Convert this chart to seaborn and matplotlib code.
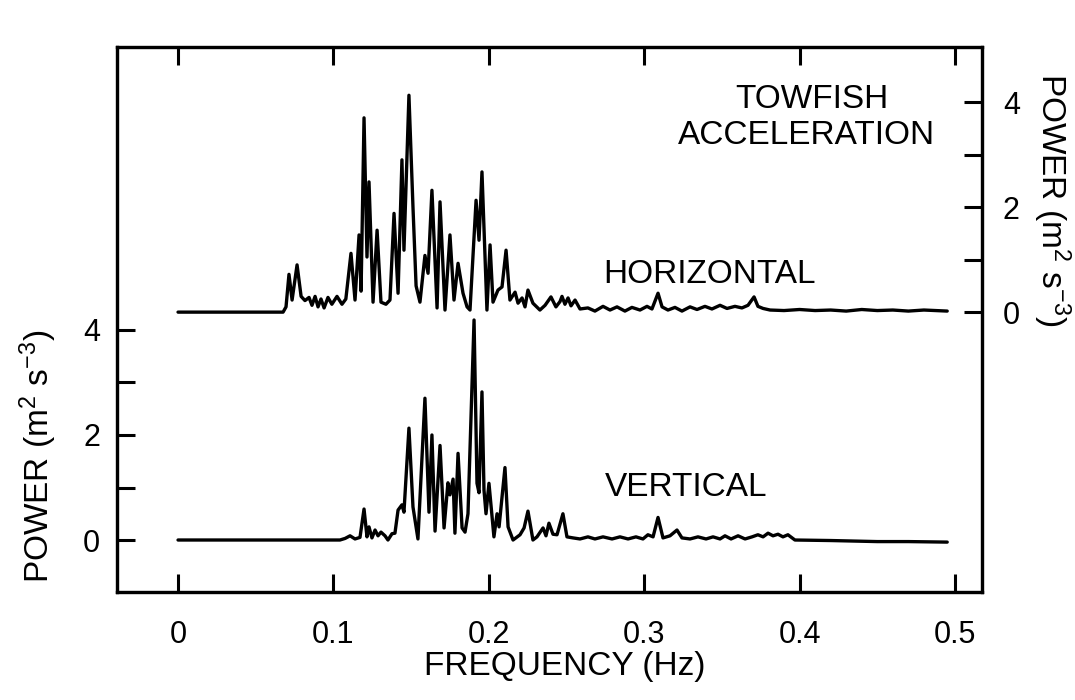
import matplotlib
matplotlib.use("Agg")
import matplotlib.pyplot as plt
import seaborn as sns
import pandas as pd

# ---- data: horizontal towfish acceleration spectrum (right axis) ----
h_freq = [0.0, 0.0676, 0.0695, 0.0714, 0.0734, 0.0766, 0.0792, 0.0817, 0.0843, 0.0862,
          0.0882, 0.0901, 0.092, 0.094, 0.0965, 0.099, 0.1023, 0.1055, 0.108, 0.1113,
          0.1139, 0.1165, 0.1178, 0.1197, 0.1216, 0.1229, 0.1255, 0.1281, 0.1306, 0.1338,
          0.1364, 0.139, 0.1416, 0.1441, 0.1454, 0.1486, 0.1512, 0.1532, 0.1557, 0.1589,
          0.1609, 0.1634, 0.1667, 0.1686, 0.1718, 0.175, 0.1776, 0.1802, 0.1834, 0.186,
          0.1879, 0.1918, 0.1937, 0.1956, 0.1988, 0.2008, 0.2027, 0.2059, 0.2085, 0.2111,
          0.2136, 0.2169, 0.2188, 0.2214, 0.2233, 0.2252, 0.2284, 0.2329, 0.2362, 0.24,
          0.2432, 0.2458, 0.2471, 0.249, 0.251, 0.2529, 0.2555, 0.2587, 0.2638, 0.2683,
          0.2735, 0.278, 0.2825, 0.2876, 0.2921, 0.2973, 0.3018, 0.305, 0.3089, 0.3115,
          0.3153, 0.3198, 0.3243, 0.3295, 0.334, 0.3391, 0.3436, 0.3488, 0.3533, 0.3584,
          0.3629, 0.3668, 0.3707, 0.3732, 0.3765, 0.381, 0.39, 0.40, 0.41, 0.42,
          0.43, 0.44, 0.45, 0.46, 0.47, 0.48, 0.495]
h_power = [0.0, 0.0, 0.1, 0.72, 0.23, 0.9, 0.3, 0.22, 0.28, 0.13,
           0.3, 0.1, 0.25, 0.08, 0.28, 0.15, 0.3, 0.15, 0.25, 1.12,
           0.23, 1.47, 0.4, 3.7, 1.05, 2.48, 0.19, 1.56, 0.19, 0.15,
           0.23, 1.88, 0.36, 2.9, 1.18, 4.13, 2.0, 0.5, 0.19, 1.08,
           0.74, 2.32, 0.08, 2.1, 0.04, 1.47, 0.23, 0.93, 0.36, 0.1,
           0.04, 2.13, 1.37, 2.67, 0.04, 1.28, 0.19, 0.42, 0.48, 1.18,
           0.23, 0.38, 0.17, 0.27, 0.1, 0.42, 0.17, 0.04, 0.13, 0.29,
           0.1, 0.2, 0.3, 0.15, 0.27, 0.12, 0.23, 0.06, 0.08, 0.02,
           0.11, 0.04, 0.1, 0.02, 0.09, 0.04, 0.11, 0.06, 0.36, 0.1,
           0.04, 0.09, 0.02, 0.1, 0.05, 0.11, 0.06, 0.13, 0.07, 0.11,
           0.08, 0.13, 0.29, 0.11, 0.07, 0.04, 0.03, 0.05, 0.03, 0.04,
           0.02, 0.05, 0.03, 0.04, 0.02, 0.04, 0.02]

# ---- data: vertical towfish acceleration spectrum (left axis) ----
v_freq = [0.0, 0.1042, 0.1075, 0.1107, 0.1139, 0.1171, 0.1197, 0.1216, 0.1229, 0.1248,
          0.1268, 0.1287, 0.1306, 0.1332, 0.1351, 0.1377, 0.1396, 0.1416, 0.1441, 0.1454,
          0.1486, 0.1512, 0.1544, 0.1589, 0.1615, 0.1634, 0.1654, 0.1686, 0.1712, 0.1737,
          0.175, 0.177, 0.1782, 0.1802, 0.1828, 0.1847, 0.1866, 0.1905, 0.1924, 0.1937,
          0.1956, 0.1969, 0.1982, 0.2001, 0.2033, 0.2053, 0.2066, 0.2104, 0.2124, 0.2156,
          0.2201, 0.2227, 0.2252, 0.2284, 0.231, 0.2349, 0.2368, 0.2387, 0.2413, 0.2439,
          0.2477, 0.2503, 0.2542, 0.2587, 0.2638, 0.2683, 0.2735, 0.2793, 0.2844, 0.2896,
          0.2947, 0.2992, 0.3024, 0.3057, 0.3089, 0.3121, 0.3166, 0.3211, 0.3243, 0.3295,
          0.3346, 0.3398, 0.3443, 0.3488, 0.352, 0.3559, 0.3604, 0.3649, 0.3694, 0.3732,
          0.3765, 0.3797, 0.3829, 0.3861, 0.3893, 0.3925, 0.397, 0.42, 0.45, 0.47, 0.495]
v_power = [0.0, 0.0, 0.03, 0.08, 0.02, 0.05, 0.59, 0.06, 0.25, 0.04,
           0.19, 0.08, 0.15, 0.08, 0.0, 0.12, 0.13, 0.57, 0.67, 0.53,
           2.13, 0.63, 0.02, 2.7, 0.53, 2.0, 0.17, 1.8, 0.23, 1.09,
           0.86, 1.16, 0.13, 1.65, 0.23, 0.15, 0.5, 4.19, 1.08, 0.9,
           2.82, 0.95, 0.5, 1.08, 0.06, 0.5, 0.25, 1.38, 0.25, 0.0,
           0.1, 0.23, 0.55, 0.0, 0.06, 0.23, 0.08, 0.32, 0.11, 0.1,
           0.5, 0.06, 0.04, 0.02, 0.06, 0.02, 0.06, 0.02, 0.06, 0.02,
           0.06, 0.02, 0.1, 0.06, 0.43, 0.04, 0.08, 0.19, 0.04, 0.02,
           0.06, 0.02, 0.06, 0.02, 0.08, 0.02, 0.08, 0.02, 0.06, 0.1,
           0.06, 0.13, 0.08, 0.11, 0.06, 0.1, 0.0, -0.01, -0.03, -0.03, -0.04]

x_ticks = [0, 0.1, 0.2, 0.3, 0.4, 0.5]
x_ticklabels = ["0", "0.1", "0.2", "0.3", "0.4", "0.5"]
y_major = [0, 2, 4]
y_minor = [1, 3]

sns.set_style("ticks")
plt.rcParams["font.family"] = ["Liberation Sans", "DejaVu Sans"]
plt.rcParams["mathtext.fontset"] = "custom"
plt.rcParams["mathtext.rm"] = "Liberation Sans"
plt.rcParams["mathtext.it"] = "Liberation Sans"
plt.rcParams["text.color"] = "black"
plt.rcParams["xtick.color"] = "black"
plt.rcParams["ytick.color"] = "black"
plt.rcParams["axes.labelcolor"] = "black"

FS_TICK = 22
FS_TXT = 24
fig = plt.figure(figsize=(10.75, 7.0), dpi=100)
ax = fig.add_axes([0.1088, 0.1543, 0.8047, 0.7786])
ax2 = ax.twinx()

dfv = pd.DataFrame({"f": v_freq, "p": v_power})
dfh = pd.DataFrame({"f": h_freq, "p": h_power})
sns.lineplot(data=dfv, x="f", y="p", ax=ax, color="black", lw=2.4, estimator=None, sort=False)
sns.lineplot(data=dfh, x="f", y="p", ax=ax2, color="black", lw=2.4, estimator=None, sort=False)

ax.set_xlim(-0.0393, 0.5174)
ax.set_ylim(-0.99, 9.39)
ax2.set_ylim(-5.33, 5.05)

for a in (ax, ax2):
    a.set_xlabel("")
    a.set_ylabel("")
    for s in a.spines.values():
        s.set_linewidth(2.3)
        s.set_color("black")

ax.set_xticks(x_ticks)
ax.set_xticklabels(x_ticklabels)
ax.set_yticks(y_major)
ax.set_yticks(y_minor, minor=True)
ax.set_yticklabels([str(v) for v in y_major])
ax.tick_params(axis="x", which="both", direction="in", top=True, bottom=True,
               length=13, width=2.2, labelsize=FS_TICK, pad=20, colors="black")
ax.tick_params(axis="y", which="both", direction="in", left=True, right=False,
               length=13, width=2.2, labelsize=FS_TICK, pad=12, colors="black")

ax2.set_yticks(y_major)
ax2.set_yticks(y_minor, minor=True)
ax2.set_yticklabels([str(v) for v in y_major])
ax2.tick_params(axis="y", which="both", direction="in", right=True, left=False,
                length=13, width=2.2, labelsize=FS_TICK, pad=15, colors="black")

fig.text(812 / 1075, 1 - 100 / 700, "TOWFISH", ha="center", va="center", fontsize=FS_TXT)
fig.text(807 / 1075, 1 - 136 / 700, "ACCELERATION", ha="center", va="center", fontsize=FS_TXT)
fig.text(603 / 1075, 1 - 275 / 700, "HORIZONTAL", ha="left", va="center", fontsize=FS_TXT)
fig.text(605 / 1075, 1 - 488 / 700, "VERTICAL", ha="left", va="center", fontsize=FS_TXT)
fig.text(565 / 1075, 1 - 667 / 700, "FREQUENCY (Hz)", ha="center", va="center", fontsize=FS_TXT)
fig.text(38 / 1075, 1 - 456 / 700, r"POWER (m$^{2}$ s$^{-3}$)", ha="center", va="center",
         rotation=90, fontsize=FS_TXT)
fig.text(1052 / 1075, 1 - 200 / 700, r"POWER (m$^{2}$ s$^{-3}$)", ha="center", va="center",
         rotation=-90, fontsize=FS_TXT)

fig.savefig("out.png", dpi=100)
